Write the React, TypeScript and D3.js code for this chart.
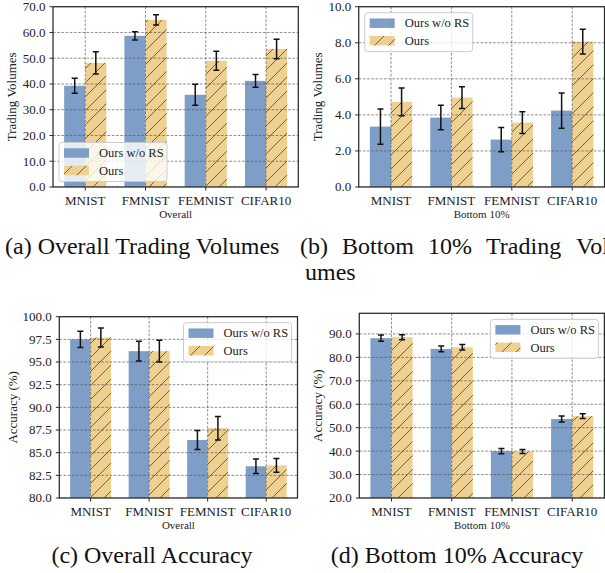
import React from "react";
import * as d3 from "d3";

const categories = ["MNIST", "FMNIST", "FEMNIST", "CIFAR10"];
const seriesNames = ["Ours w/o RS", "Ours"];

// (a) overall trading volumes
const volAllBase = [39.3, 58.7, 35.8, 41.2];
const volAllBaseErr = [2.9, 1.6, 4.1, 2.5];
const volAllOurs = [48.2, 64.9, 49.0, 53.6];
const volAllOursErr = [4.3, 2.0, 3.7, 3.8];
const volAllTicks = [0, 10, 20, 30, 40, 50, 60, 70];

// (b) bottom 10% trading volumes
const volLowBase = [3.35, 3.85, 2.63, 4.24];
const volLowBaseErr = [0.98, 0.68, 0.67, 0.98];
const volLowOurs = [4.72, 4.96, 3.57, 8.06];
const volLowOursErr = [0.77, 0.6, 0.6, 0.69];
const volLowTicks = [0, 2, 4, 6, 8, 10];

// (c) overall accuracy
const accAllBase = [97.5, 96.2, 86.4, 83.5];
const accAllBaseErr = [0.9, 1.1, 1.05, 0.8];
const accAllOurs = [97.7, 96.2, 87.7, 83.6];
const accAllOursErr = [1.05, 1.2, 1.3, 0.75];
const accAllTicks = [80, 82.5, 85, 87.5, 90, 92.5, 95, 97.5, 100];

// (d) bottom 10% accuracy
const accLowBase = [88.2, 83.6, 40.0, 53.7];
const accLowBaseErr = [1.3, 1.2, 1.1, 1.3];
const accLowOurs = [88.6, 84.3, 39.8, 54.9];
const accLowOursErr = [1.1, 1.2, 0.85, 1.0];
const accLowTicks = [20, 30, 40, 50, 60, 70, 80, 90];

// caption (b) is justified and runs past the right edge, word by word
const captionBWords = ["(b)", "Bottom", "10%", "Trading", "Vol"];

const BLUE = "#7f9ec7";
const TAN = "#eed192";
const FONT = "'Liberation Serif', 'DejaVu Serif', serif";
const barW = 0.35;
const fmt = d3.format(".1f");

type Box = { left: number; right: number; top: number; bottom: number };

function Panel(props: {
  id: string;
  box: Box;
  yDomain: [number, number];
  yTicks: number[];
  base: number[];
  baseErr: number[];
  ours: number[];
  oursErr: number[];
  ylabel: string;
  ylabelX: number;
  xlabel: string;
  legend: "ll" | "ul" | "ur";
}) {
  const { id, box, yDomain, yTicks, base, baseErr, ours, oursErr } = props;
  const x = d3
    .scaleLinear()
    .domain([-0.535, categories.length - 1 + 0.535])
    .range([box.left, box.right]);
  const y = d3.scaleLinear().domain(yDomain).range([box.bottom, box.top]);

  const bars = [
    { vals: base, errs: baseErr, off: -barW, color: BLUE, hatch: false },
    { vals: ours, errs: oursErr, off: 0, color: TAN, hatch: true },
  ];

  // legend box
  const lw = 108;
  const lh = 39;
  const lx = props.legend === "ur" ? box.right - 6 - lw : box.left + 6;
  const ly = props.legend === "ll" ? box.bottom - 5.5 - lh : box.top + 6;

  return (
    <g>
      <clipPath id={"clip-" + id}>
        <rect x={box.left} y={box.top} width={box.right - box.left} height={box.bottom - box.top} />
      </clipPath>
      <g clipPath={`url(#clip-${id})`}>
        {bars.map((s, si) =>
          s.vals.map((v, i) => {
            const x0 = x(i + s.off);
            const w = x(i + s.off + barW) - x0;
            const top = y(v);
            const h = box.bottom + 2 - top;
            return (
              <g key={si + "-" + i}>
                <rect x={x0} y={top} width={w} height={h} fill={s.color} />
                {s.hatch && <rect x={x0} y={top} width={w} height={h} fill="url(#hatch)" />}
              </g>
            );
          })
        )}
        {yTicks.map((t) => (
          <line key={"gy" + t} x1={box.left} x2={box.right} y1={y(t)} y2={y(t)}
            stroke="#555" strokeOpacity={0.85} strokeWidth={0.8} strokeDasharray="2.6,1.6" />
        ))}
        {categories.map((c, i) => (
          <line key={"gx" + c} x1={x(i)} x2={x(i)} y1={box.top} y2={box.bottom}
            stroke="#555" strokeOpacity={0.85} strokeWidth={0.8} strokeDasharray="2.6,1.6" />
        ))}
        {bars.map((s, si) =>
          s.vals.map((v, i) => {
            const cx = x(i + s.off + barW / 2);
            const y1 = y(v + s.errs[i]);
            const y2 = y(v - s.errs[i]);
            return (
              <g key={"e" + si + "-" + i} stroke="#111" strokeWidth={1.5}>
                <line x1={cx} x2={cx} y1={y1} y2={y2} />
                <line x1={cx - 3} x2={cx + 3} y1={y1} y2={y1} />
                <line x1={cx - 3} x2={cx + 3} y1={y2} y2={y2} />
              </g>
            );
          })
        )}
      </g>
      <rect x={box.left} y={box.top} width={box.right - box.left} height={box.bottom - box.top}
        fill="none" stroke="#2a2a2a" strokeWidth={1.25} />
      {yTicks.map((t) => (
        <g key={"ty" + t}>
          <line x1={box.left - 3.5} x2={box.left} y1={y(t)} y2={y(t)} stroke="#2a2a2a" strokeWidth={1} />
          <text x={box.left - 7.5} y={y(t)} dy="0.34em" textAnchor="end" fontSize={13} fontFamily={FONT} fill="#222">
            {fmt(t)}
          </text>
        </g>
      ))}
      {categories.map((c, i) => (
        <g key={"tx" + c}>
          <line x1={x(i)} x2={x(i)} y1={box.bottom} y2={box.bottom + 3.5} stroke="#2a2a2a" strokeWidth={1} />
          <text x={x(i)} y={box.bottom + 18} textAnchor="middle" fontSize={13} fontFamily={FONT} fill="#222">
            {c}
          </text>
        </g>
      ))}
      <text x={(box.left + box.right) / 2} y={box.bottom + 31} textAnchor="middle" fontSize={11}
        fontFamily={FONT} fill="#222">
        {props.xlabel}
      </text>
      <text transform={`translate(${props.ylabelX},${(box.top + box.bottom) / 2}) rotate(-90)`}
        dy="0.34em" textAnchor="middle" fontSize={13} fontFamily={FONT} fill="#222">
        {props.ylabel}
      </text>
      <g>
        <rect x={lx} y={ly} width={lw} height={lh} rx={3} fill="#fff" fillOpacity={0.8} stroke="#ccc" strokeWidth={1} />
        {seriesNames.map((name, k) => {
          const cy = ly + 10.5 + k * 17.5;
          return (
            <g key={name}>
              <rect x={lx + 5} y={cy - 4.75} width={25} height={9.5} fill={k === 0 ? BLUE : TAN} />
              {k === 1 && <rect x={lx + 5} y={cy - 4.75} width={25} height={9.5} fill="url(#hatch)" />}
              <text x={lx + 40} y={cy} dy="0.34em" fontSize={12.5} fontFamily={FONT} fill="#222">
                {name}
              </text>
            </g>
          );
        })}
      </g>
    </g>
  );
}

export default function App() {
  const capStyle = { fontSize: 24, fontFamily: FONT, fill: "#111" };
  // justified first line of caption (b): word widths measured in 24px serif
  const wordW = [28, 72, 44, 76, 36];
  const gap = 14;
  const wordX: number[] = [];
  captionBWords.reduce((acc, _, i) => {
    wordX.push(acc);
    return acc + wordW[i] + gap;
  }, 300);

  return (
    <svg width={605} height={573} style={{ position: "absolute", left: 0, top: 0, background: "#fff" }}>
      <defs>
        <pattern id="hatch" patternUnits="userSpaceOnUse" width={14} height={14}>
          <path d="M-1,1 l2,-2 M0,14 l14,-14 M13,15 l2,-2" stroke="#3a3428" strokeOpacity={0.8} strokeWidth={0.9} />
        </pattern>
      </defs>
      <Panel id="a" box={{ left: 53, right: 298.3, top: 6.7, bottom: 187 }} yDomain={[0, 70]} yTicks={volAllTicks}
        base={volAllBase} baseErr={volAllBaseErr} ours={volAllOurs} oursErr={volAllOursErr}
        ylabel="Trading Volumes" ylabelX={12} xlabel="Overall" legend="ll" />
      <Panel id="b" box={{ left: 358.7, right: 604.5, top: 6.7, bottom: 187 }} yDomain={[0, 10]} yTicks={volLowTicks}
        base={volLowBase} baseErr={volLowBaseErr} ours={volLowOurs} oursErr={volLowOursErr}
        ylabel="Trading Volumes" ylabelX={318} xlabel="Bottom 10%" legend="ul" />
      <Panel id="c" box={{ left: 59.3, right: 297.5, top: 316.7, bottom: 498 }} yDomain={[80, 100]} yTicks={accAllTicks}
        base={accAllBase} baseErr={accAllBaseErr} ours={accAllOurs} oursErr={accAllOursErr}
        ylabel="Accuracy (%)" ylabelX={12.5} xlabel="Overall" legend="ur" />
      <Panel id="d" box={{ left: 359.3, right: 604.4, top: 313.3, bottom: 498 }} yDomain={[20, 98.8]} yTicks={accLowTicks}
        base={accLowBase} baseErr={accLowBaseErr} ours={accLowOurs} oursErr={accLowOursErr}
        ylabel="Accuracy (%)" ylabelX={318} xlabel="Bottom 10%" legend="ur" />

      <text x={5} y={254} {...capStyle}>(a) Overall Trading Volumes</text>
      {captionBWords.map((w, i) => (
        <text key={w} x={wordX[i]} y={254} {...capStyle}>{w}</text>
      ))}
      <text x={305} y={280} {...capStyle}>umes</text>
      <text x={152} y={563} textAnchor="middle" {...capStyle}>(c) Overall Accuracy</text>
      <text x={457} y={563} textAnchor="middle" {...capStyle}>(d) Bottom 10% Accuracy</text>
    </svg>
  );
}
